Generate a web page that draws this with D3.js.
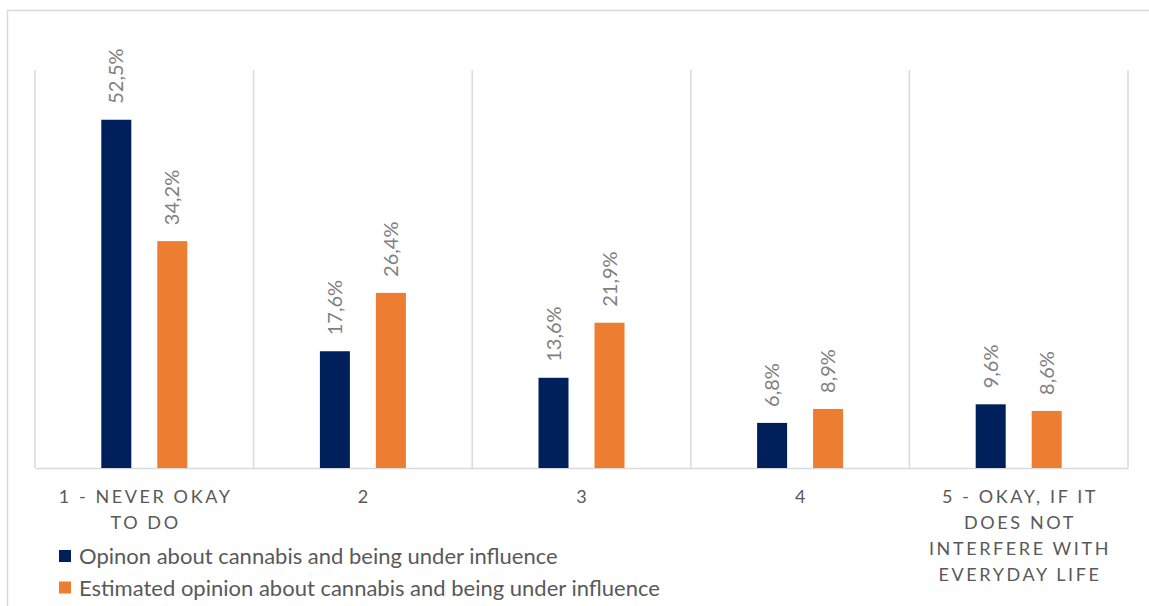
<!DOCTYPE html>
<html><head><meta charset="utf-8">
<script src="https://cdn.jsdelivr.net/npm/d3@7"></script>
<style>body{margin:0;background:#fff}svg{display:block}</style>
</head><body>
<svg id="c" width="1149" height="606"></svg>
<script>
const categories = ["1 - NEVER OKAY TO DO", "2", "3", "4", "5 - OKAY, IF IT DOES NOT INTERFERE WITH EVERYDAY LIFE"];
const categoryLines = [["1 - NEVER OKAY", "TO DO"], ["2"], ["3"], ["4"], ["5 - OKAY, IF IT", "DOES NOT", "INTERFERE WITH", "EVERYDAY LIFE"]];
const seriesNames = ["Opinon about cannabis and being under influence", "Estimated opinion about cannabis and being under influence"];
const opinion = [52.5, 17.6, 13.6, 6.8, 9.6];
const estimated = [34.2, 26.4, 21.9, 8.9, 8.6];
const colors = ["#00205b", "#ed7d31"];

(function () {
const svg = d3.select("#c");
const font = "Lato, 'Open Sans', sans-serif";
const pLeft = 35, pRight = 1128, pTop = 70, pBottom = 468;

svg.append("rect").attr("x", 7.5).attr("y", 10.5).attr("width", 1160).attr("height", 620)
  .attr("fill", "none").attr("stroke", "#d9d9d9").attr("stroke-width", 1.5);

const x = d3.scaleBand().domain(categories).range([pLeft, pRight]).padding(0);
const y = d3.scaleLinear().domain([0, 60]).range([pBottom, pTop]);
const series = [opinion, estimated];
const barW = 30, gap = 26;

const seps = categories.map(c => x(c)).concat([pRight]);
svg.append("g").selectAll("line").data(seps).join("line")
  .attr("x1", d => d).attr("x2", d => d).attr("y1", pTop).attr("y2", pBottom)
  .attr("stroke", "#d9d9d9").attr("stroke-width", 1.5);

svg.append("g").attr("transform", `translate(0,${pBottom})`)
  .call(d3.axisBottom(x).tickSize(0).tickFormat(""))
  .call(g => g.select(".domain").attr("stroke", "#d9d9d9").attr("stroke-width", 1.5));

series.forEach((vals, si) => {
  const off = (si === 0 ? -1 : 1) * (gap / 2 + barW / 2);
  const g = svg.append("g");
  g.selectAll("rect").data(vals).join("rect")
    .attr("x", (d, i) => x(categories[i]) + x.bandwidth() / 2 + off - barW / 2)
    .attr("y", d => y(d)).attr("width", barW).attr("height", d => y(0) - y(d))
    .attr("fill", colors[si]);
  g.selectAll("text").data(vals).join("text")
    .attr("transform", (d, i) => `translate(${x(categories[i]) + x.bandwidth() / 2 + off + 7},${y(d) - 16}) rotate(-90)`)
    .attr("font-family", font).attr("font-size", 20).attr("fill", "#7f7f7f")
    .text(d => d.toFixed(1).replace(".", ",") + "%");
});

categoryLines.forEach((lines, i) => {
  const t = svg.append("text").attr("text-anchor", "middle")
    .attr("font-family", font).attr("font-size", 18).attr("fill", "#595959")
    .attr("letter-spacing", "2.6px");
  lines.forEach((l, j) => {
    t.append("tspan").attr("x", x(categories[i]) + x.bandwidth() / 2 + 1.3).attr("y", 503 + j * 26).text(l);
  });
});

const lg = svg.append("g");
seriesNames.forEach((n, i) => {
  const yy = 556 + i * 31.5;
  lg.append("rect").attr("x", 59).attr("y", yy - 6).attr("width", 12).attr("height", 12).attr("fill", colors[i]);
  lg.append("text").attr("x", 79).attr("y", yy + 8).attr("font-family", font).attr("font-size", 22)
    .attr("fill", "#595959").text(n);
});
})();
</script>
</body></html>
